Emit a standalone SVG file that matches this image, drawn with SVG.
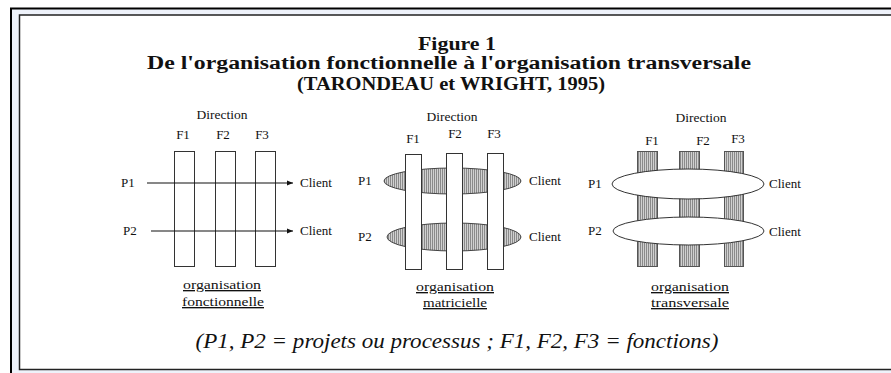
<svg xmlns="http://www.w3.org/2000/svg" width="891" height="373" viewBox="0 0 891 373">
<style>
.t{font-family:"Liberation Serif","Times New Roman",serif;fill:#111}
.s{font-size:13px}
.d{font-size:12.5px}
.h{font-size:18px;font-weight:bold}
.u{font-size:13.5px;text-decoration:underline}
.bar{fill:#fff;stroke:#333;stroke-width:1}
.hb{fill:url(#hatch);stroke:#555;stroke-width:1}
.ell{fill:url(#hatch);stroke:#444;stroke-width:1}
.wel{fill:#fff;stroke:#333;stroke-width:1}
.ln{stroke:#111;stroke-width:1.2;fill:none}
</style>
<defs>
<pattern id="hatch" width="2" height="4" patternUnits="userSpaceOnUse">
<rect width="2" height="4" fill="#d0d0d0"/>
<rect width="1" height="4" fill="#8a8a8a"/>
</pattern>
<marker id="arr" viewBox="0 0 10 10" refX="10" refY="5" markerWidth="12" markerHeight="6" markerUnits="userSpaceOnUse" orient="auto">
<path d="M0,1 L10,5 L0,9 Z" fill="#111"/>
</marker>
</defs>
<g id="frame">
<rect x="10" y="8" width="881" height="365" fill="#eef2fa"/>
<line x1="10" y1="8.5" x2="891" y2="8.5" stroke="#000" stroke-width="2"/>
<line x1="11" y1="8" x2="11" y2="373" stroke="#000" stroke-width="2"/>
<rect x="19.5" y="15" width="880" height="354.5" fill="#fff" stroke="#222" stroke-width="1.5"/>
</g>
<g id="title">
<text class="t h" x="457" y="50" text-anchor="middle" font-size="20" textLength="78" lengthAdjust="spacingAndGlyphs">Figure 1</text>
<text class="t h" x="449" y="69" text-anchor="middle" textLength="604" lengthAdjust="spacingAndGlyphs">De l'organisation fonctionnelle à l'organisation transversale</text>
<text class="t h" x="451" y="90" text-anchor="middle" textLength="308" lengthAdjust="spacingAndGlyphs">(TARONDEAU et WRIGHT, 1995)</text>
</g>
<g id="panel-fonctionnelle">
<text class="t d" x="222" y="119" text-anchor="middle" textLength="51" lengthAdjust="spacingAndGlyphs">Direction</text>
<text class="t s" x="183" y="139" text-anchor="middle">F1</text>
<text class="t s" x="223" y="139" text-anchor="middle">F2</text>
<text class="t s" x="262" y="139" text-anchor="middle">F3</text>
<rect class="bar" x="174.5" y="151.5" width="20" height="115"/>
<rect class="bar" x="215.5" y="151.5" width="20" height="115"/>
<rect class="bar" x="255.5" y="151.5" width="20" height="115"/>
<text class="t s" x="121" y="187">P1</text>
<text class="t s" x="123" y="235">P2</text>
<text class="t s" x="300" y="187">Client</text>
<text class="t s" x="300" y="235">Client</text>
<text class="t u" x="222" y="289" text-anchor="middle" textLength="78" lengthAdjust="spacingAndGlyphs">organisation</text>
<text class="t u" x="223" y="306" text-anchor="middle" textLength="82" lengthAdjust="spacingAndGlyphs">fonctionnelle</text>
</g>
<g id="panel-matricielle">
<ellipse class="ell" cx="452.5" cy="181" rx="68.5" ry="13"/>
<ellipse class="ell" cx="454" cy="237" rx="67" ry="14"/>
<text class="t d" x="452" y="121" text-anchor="middle" textLength="51" lengthAdjust="spacingAndGlyphs">Direction</text>
<text class="t s" x="413" y="143" text-anchor="middle">F1</text>
<text class="t s" x="455" y="138" text-anchor="middle">F2</text>
<text class="t s" x="494" y="138" text-anchor="middle">F3</text>
<rect class="bar" x="405.5" y="154.5" width="16" height="115"/>
<rect class="bar" x="446.5" y="153.5" width="16" height="116"/>
<rect class="bar" x="487.5" y="153.5" width="16" height="116"/>
<text class="t s" x="358" y="185">P1</text>
<text class="t s" x="358" y="241">P2</text>
<text class="t s" x="529" y="185">Client</text>
<text class="t s" x="529" y="241">Client</text>
<text class="t u" x="455" y="291" text-anchor="middle" textLength="78" lengthAdjust="spacingAndGlyphs">organisation</text>
<text class="t u" x="455" y="307" text-anchor="middle" textLength="64" lengthAdjust="spacingAndGlyphs">matricielle</text>
</g>
<g id="panel-transversale">
<text class="t d" x="701" y="122" text-anchor="middle" textLength="51" lengthAdjust="spacingAndGlyphs">Direction</text>
<text class="t s" x="652" y="145" text-anchor="middle">F1</text>
<text class="t s" x="703" y="145" text-anchor="middle">F2</text>
<text class="t s" x="738" y="143" text-anchor="middle">F3</text>
<rect class="hb" x="637.5" y="151.5" width="20" height="115"/>
<rect class="hb" x="679.5" y="151.5" width="20" height="115"/>
<rect class="hb" x="724.5" y="151.5" width="19" height="115"/>
<ellipse class="wel" cx="688" cy="184" rx="76" ry="15"/>
<ellipse class="wel" cx="688.5" cy="231" rx="75.5" ry="14"/>
<text class="t s" x="588" y="188">P1</text>
<text class="t s" x="588" y="235">P2</text>
<text class="t s" x="769" y="188">Client</text>
<text class="t s" x="769" y="236">Client</text>
<text class="t u" x="690" y="291" text-anchor="middle" textLength="78" lengthAdjust="spacingAndGlyphs">organisation</text>
<text class="t u" x="690" y="307" text-anchor="middle" textLength="78" lengthAdjust="spacingAndGlyphs">transversale</text>
</g>
<g id="connectors">
<line class="ln" x1="147" y1="183" x2="293" y2="183" marker-end="url(#arr)"/>
<line class="ln" x1="151" y1="231" x2="293" y2="231" marker-end="url(#arr)"/>
</g>
<text class="t" x="457" y="348" text-anchor="middle" font-size="22" font-style="italic" textLength="523" lengthAdjust="spacingAndGlyphs">(P1, P2 = projets ou processus ; F1, F2, F3 = fonctions)</text>
</svg>
